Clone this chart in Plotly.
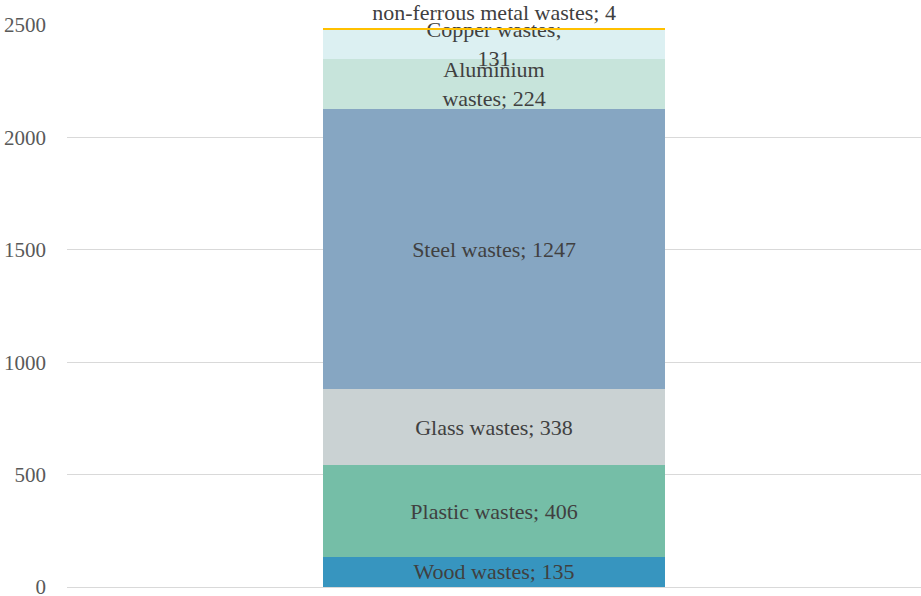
import plotly.graph_objects as go

categories = ["Wastes"]
series_names = ["Wood wastes", "Plastic wastes", "Glass wastes", "Steel wastes",
                "Aluminium wastes", "Copper wastes", "non-ferrous metal wastes"]
series_values = [135, 406, 338, 1247, 224, 131, 4]
label_texts = ["Wood wastes; 135", "Plastic wastes; 406", "Glass wastes; 338",
               "Steel wastes; 1247", "Aluminium<br>wastes; 224", "Copper wastes;<br>131",
               "non-ferrous metal wastes; 4"]
colors = ["#3795bf", "#75bea7", "#cad2d3", "#86a6c2", "#c7e4db", "#dcf0f2", "#ffc000"]
tick_vals = [0, 500, 1000, 1500, 2000, 2500]

FONT = "Liberation Serif"

fig = go.Figure()
for i, (name, val, txt, col) in enumerate(zip(series_names, series_values, label_texts, colors)):
    last = i == len(series_names) - 1
    fig.add_trace(go.Bar(
        x=categories, y=[val], name=name,
        marker=dict(color=col, line=dict(width=0)),
        text=[txt], texttemplate="%{text}",
        textposition="outside" if last else "inside",
        insidetextanchor="middle",
        constraintext="none",
        cliponaxis=False,
        textfont=dict(family=FONT, size=22, color="#404040"),
        insidetextfont=dict(family=FONT, size=22, color="#404040"),
        outsidetextfont=dict(family=FONT, size=22, color="#404040"),
        hoverinfo="skip",
    ))

fig.update_layout(
    barmode="stack",
    bargap=0.6,
    width=921, height=596,
    margin=dict(l=67, r=0, t=25, b=9, autoexpand=False),
    paper_bgcolor="white", plot_bgcolor="white",
    showlegend=False,
    font=dict(family=FONT, color="#595959"),
    xaxis=dict(showticklabels=False, showgrid=False, zeroline=False, showline=False,
               ticks="", automargin=False),
    yaxis=dict(range=[0, 2500], tickvals=tick_vals, showgrid=True, gridcolor="#d9d9d9",
               gridwidth=1, zeroline=True, zerolinecolor="#d9d9d9", zerolinewidth=1,
               showline=False, ticks="", ticklabelstandoff=20, automargin=False,
               ticklabeloverflow="allow",
               tickfont=dict(family=FONT, size=21, color="#595959")),
)

fig.write_html("out.html",
               config={"displayModeBar": False},
               post_script="document.body.style.margin='0';document.body.style.overflow='hidden';")
